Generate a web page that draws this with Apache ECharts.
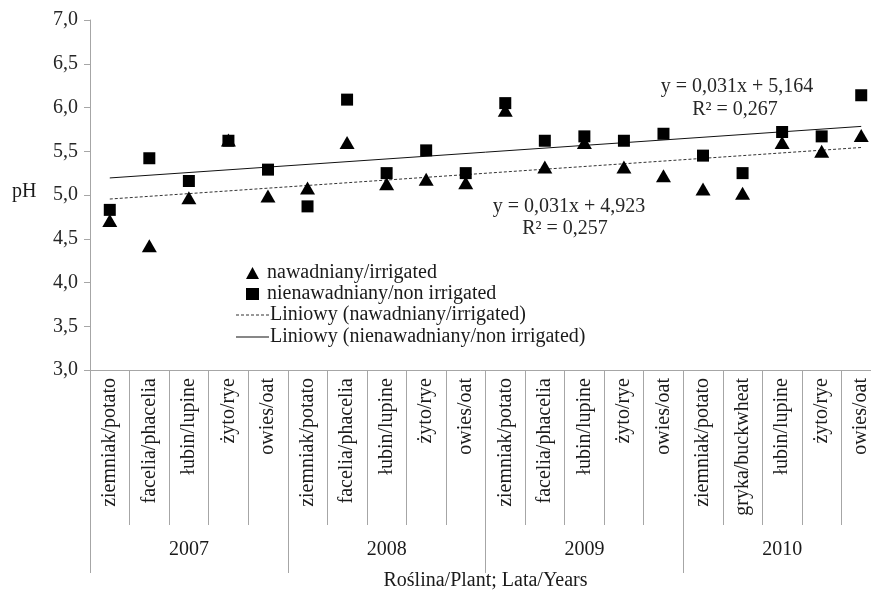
<!DOCTYPE html>
<html>
<head>
<meta charset="utf-8">
<script src="https://cdn.jsdelivr.net/npm/echarts@6/dist/echarts.min.js"></script>
<style>
  html, body { margin: 0; padding: 0; background: #fff; }
  #chart { width: 871px; height: 592px; }
</style>
</head>
<body>
<div id="chart"></div>
<script>
// plants per year (20 categories)
const plants = [
  'ziemniak/potato', 'facelia/phacelia', 'łubin/lupine', 'żyto/rye', 'owies/oat',
  'ziemniak/potato', 'facelia/phacelia', 'łubin/lupine', 'żyto/rye', 'owies/oat',
  'ziemniak/potato', 'facelia/phacelia', 'łubin/lupine', 'żyto/rye', 'owies/oat',
  'ziemniak/potato', 'gryka/buckwheat', 'łubin/lupine', 'żyto/rye', 'owies/oat'
];
const years = ['2007', '2008', '2009', '2010'];

// pH values
const irrigated = [4.71, 4.42, 4.97, 5.63, 4.99, 5.08, 5.60, 5.13, 5.18, 5.14,
                   5.97, 5.32, 5.60, 5.32, 5.22, 5.07, 5.02, 5.60, 5.50, 5.68];
const nonIrrigated = [4.83, 5.42, 5.16, 5.62, 5.29, 4.87, 6.09, 5.25, 5.51, 5.25,
                      6.05, 5.62, 5.67, 5.62, 5.70, 5.45, 5.25, 5.72, 5.67, 6.14];

// trend lines (first and last point)
const trendIrrigated = [[0, 4.954], [19, 5.543]];
const trendNonIrrigated = [[0, 5.195], [19, 5.784]];

const yTicks = { min: 3, max: 7, step: 0.5 };

const FONT = 'Liberation Serif';
const AXIS_GRAY = '#a6a6a6';
const TXT = '#1a1a1a';

// legend icons for the trend lines (1px tall bars)
const dashedIcon = 'path://M0,0h3v1h-3z M5,0h3v1h-3z M10,0h3v1h-3z M15,0h3v1h-3z M20,0h3v1h-3z M25,0h3v1h-3z M30,0h3v1h-3z';
const solidIcon = 'path://M0,0h33v1h-33z';

let chart = echarts.init(document.getElementById('chart'));

let option = {
  animation: false,
  textStyle: { fontFamily: FONT },
  grid: { left: 90, right: -10, top: 20, bottom: 222, outerBoundsMode: 'none' },
  legend: [
    {
      orient: 'vertical',
      left: 241,
      top: 258,
      itemWidth: 13,
      itemHeight: 12,
      itemGap: 1,
      textStyle: { fontFamily: FONT, fontSize: 20, color: TXT, padding: [0, 0, 0, 3] },
      data: [
        { name: 'nawadniany/irrigated', icon: 'triangle' },
        { name: 'nienawadniany/non irrigated', icon: 'rect' }
      ]
    },
    {
      orient: 'vertical',
      left: 231,
      top: 300,
      itemWidth: 33,
      itemHeight: 1,
      itemGap: 2,
      textStyle: { fontFamily: FONT, fontSize: 20, color: TXT, padding: [0, 0, 0, -4] },
      data: [
        { name: 'Liniowy (nawadniany/irrigated)', icon: dashedIcon },
        { name: 'Liniowy (nienawadniany/non irrigated)', icon: solidIcon }
      ]
    }
  ],
  xAxis: [
    {
      type: 'category',
      data: plants,
      position: 'bottom',
      axisLine: { onZero: false, lineStyle: { color: AXIS_GRAY } },
      axisTick: { show: true, interval: 0, length: 155, lineStyle: { color: AXIS_GRAY } },
      axisLabel: { interval: 0, rotate: 90, margin: 8, fontFamily: FONT, fontSize: 20, color: TXT }
    },
    {
      type: 'category',
      data: years,
      position: 'bottom',
      axisLine: { show: false, onZero: false },
      axisTick: { show: true, interval: 0, length: 203, lineStyle: { color: AXIS_GRAY } },
      axisLabel: { interval: 0, margin: 170, fontFamily: FONT, fontSize: 20, color: TXT },
      name: 'Roślina/Plant; Lata/Years',
      nameLocation: 'middle',
      nameGap: 201,
      nameTextStyle: { fontFamily: FONT, fontSize: 20, color: TXT }
    }
  ],
  yAxis: {
    type: 'value',
    min: yTicks.min,
    max: yTicks.max,
    interval: yTicks.step,
    axisLine: { show: true, lineStyle: { color: AXIS_GRAY } },
    axisTick: { show: true, length: 6, lineStyle: { color: AXIS_GRAY } },
    splitLine: { show: false },
    axisLabel: {
      margin: 12,
      fontFamily: FONT,
      fontSize: 20,
      color: '#262626',
      formatter: function (v) { return v.toFixed(1).replace('.', ','); }
    }
  },
  graphic: [
    { type: 'text', left: 12, top: 182, style: { text: 'pH', font: '20px "Liberation Serif"', fill: TXT } },
    { type: 'text', x: 737, y: 87, style: { text: 'y = 0,031x + 5,164', font: '20px "Liberation Serif"', fill: '#262626', align: 'center', verticalAlign: 'middle' } },
    { type: 'text', x: 735, y: 110, style: { text: 'R² = 0,267', font: '20px "Liberation Serif"', fill: '#262626', align: 'center', verticalAlign: 'middle' } },
    { type: 'text', x: 569, y: 207, style: { text: 'y = 0,031x + 4,923', font: '20px "Liberation Serif"', fill: '#262626', align: 'center', verticalAlign: 'middle' } },
    { type: 'text', x: 565, y: 229, style: { text: 'R² = 0,257', font: '20px "Liberation Serif"', fill: '#262626', align: 'center', verticalAlign: 'middle' } }
  ],
  series: [
    {
      name: 'Liniowy (nawadniany/irrigated)',
      type: 'line',
      data: trendIrrigated,
      symbol: 'none',
      z: 1,
      lineStyle: { color: '#333', width: 1, type: [3, 2] },
      itemStyle: { color: '#333' }
    },
    {
      name: 'Liniowy (nienawadniany/non irrigated)',
      type: 'line',
      data: trendNonIrrigated,
      symbol: 'none',
      z: 1,
      lineStyle: { color: '#111', width: 1 },
      itemStyle: { color: '#111' }
    },
    {
      name: 'nienawadniany/non irrigated',
      type: 'scatter',
      data: nonIrrigated,
      symbol: 'rect',
      symbolSize: 12,
      z: 3,
      itemStyle: { color: '#000', opacity: 1 }
    },
    {
      name: 'nawadniany/irrigated',
      type: 'scatter',
      data: irrigated,
      symbol: 'triangle',
      symbolSize: [15, 13],
      z: 4,
      itemStyle: { color: '#000', opacity: 1 }
    }
  ]
};

chart.setOption(option);
window.addEventListener('resize', function () {
  chart.resize();
});
</script>
</body>
</html>
